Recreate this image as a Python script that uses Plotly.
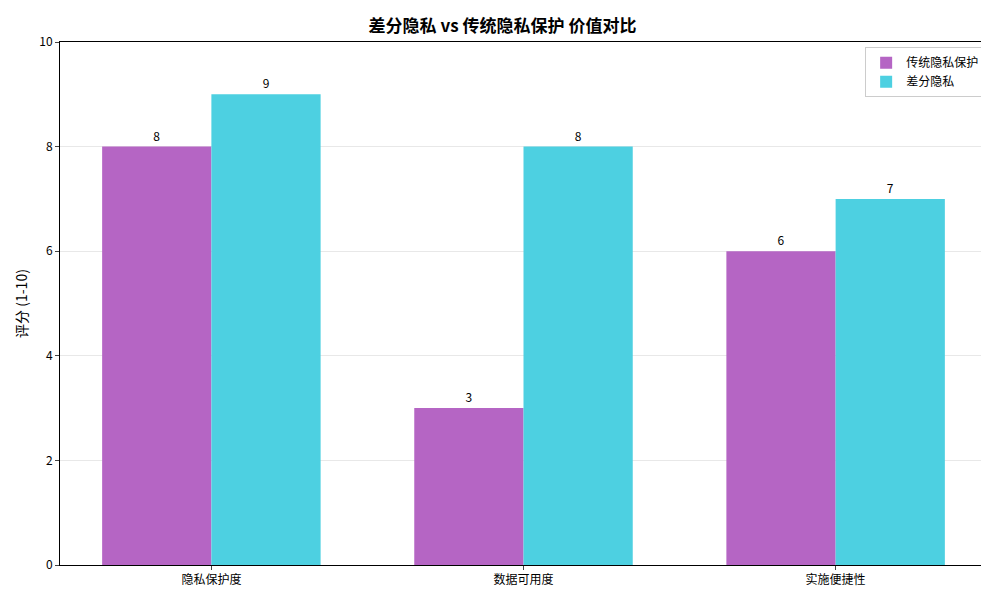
import plotly.graph_objects as go

categories = ["隐私保护度", "数据可用度", "实施便捷性"]
traditional = [8, 3, 6]
differential = [9, 8, 7]

font = "Noto Sans CJK SC"

fig = go.Figure()
fig.add_trace(go.Bar(x=categories, y=traditional, name="传统隐私保护",
                     marker=dict(color="#b565c4", line=dict(width=0)),
                     text=traditional, textposition="outside",
                     textfont=dict(size=12, color="black")))
fig.add_trace(go.Bar(x=categories, y=differential, name="差分隐私",
                     marker=dict(color="#4dd0e1", line=dict(width=0)),
                     text=differential, textposition="outside",
                     textfont=dict(size=12, color="black")))

fig.update_layout(
    width=989, height=590,
    barmode="group", bargap=0.3, bargroupgap=0,
    plot_bgcolor="white", paper_bgcolor="white",
    font=dict(family=font, size=12, color="black"),
    title=dict(text="<b>差分隐私 vs 传统隐私保护 价值对比</b>", x=0.5, xanchor="center",
               y=0.97, yanchor="middle", font=dict(size=17), automargin=False),
    margin=dict(l=52, r=10, t=34, b=33, autoexpand=False),
    legend=dict(x=0.998, y=0.99, xanchor="right", yanchor="top",
                bordercolor="#cccccc", borderwidth=1, bgcolor="white",
                font=dict(size=12)),
    xaxis=dict(range=[-0.485, 2.485], showline=True, linecolor="black",
               mirror=True, ticks="outside", ticklen=4, automargin=False),
    yaxis=dict(range=[0, 10], dtick=2, showline=True, linecolor="black",
               mirror=True, ticks="outside", ticklen=4, automargin=False,
               showgrid=True, gridcolor="#e8e8e8", zeroline=False,
               title=dict(text="评分 (1-10)", standoff=8)),
)
fig.update_traces(cliponaxis=False)

fig.write_html("out.html")
